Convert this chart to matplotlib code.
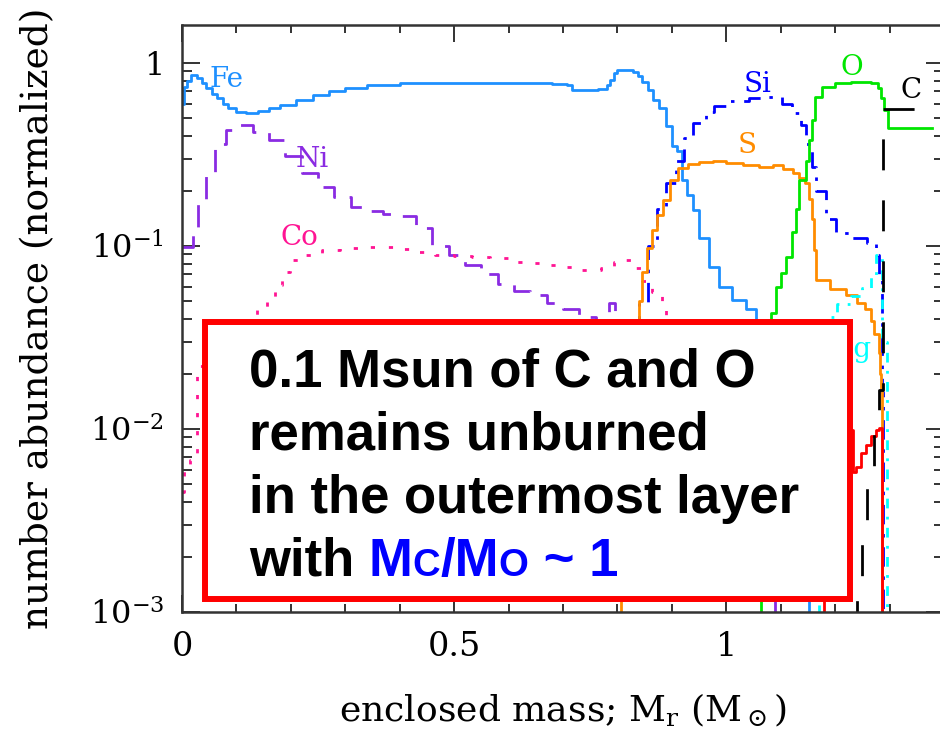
import numpy as np
import matplotlib
matplotlib.use("Agg")
import matplotlib.pyplot as plt
from matplotlib.patches import Rectangle
from matplotlib.ticker import FixedLocator, FixedFormatter, MultipleLocator, LogLocator, NullFormatter

plt.rcParams['lines.scale_dashes'] = False
plt.rcParams['mathtext.fontset'] = 'dejavuserif'
plt.rcParams['font.family'] = ['DejaVu Serif']

# ---------------- data (enclosed mass [Msun], normalized number abundance) ----------------
fe_x = [0, 0.004, 0.009, 0.016, 0.027, 0.036, 0.045, 0.055, 0.065, 0.075, 0.085, 0.100, 0.118,
        0.140, 0.16, 0.18, 0.21, 0.24, 0.27, 0.30, 0.34, 0.40, 0.50, 0.60, 0.68, 0.708, 0.716,
        0.765, 0.78, 0.787, 0.794, 0.80, 0.828, 0.838, 0.846, 0.856, 0.866, 0.876, 0.89, 0.90,
        0.91, 0.919, 0.928, 0.938, 0.95, 0.969, 0.987, 1.011, 1.037, 1.055, 1.07, 1.09, 1.11,
        1.13, 1.152]
fe_y = [0.60, 0.74, 0.80, 0.86, 0.83, 0.78, 0.73, 0.68, 0.64, 0.60, 0.57, 0.54, 0.53,
        0.545, 0.565, 0.59, 0.625, 0.665, 0.70, 0.73, 0.755, 0.775, 0.78, 0.78, 0.77, 0.76, 0.71,
        0.72, 0.76, 0.81, 0.88, 0.92, 0.89, 0.85, 0.79, 0.71, 0.63, 0.57, 0.45, 0.35,
        0.33, 0.23, 0.19, 0.157, 0.11, 0.077, 0.06, 0.051, 0.045, 0.039, 0.03, 0.02, 0.01,
        0.004, 0.0005]

ni_x = [0, 0.02, 0.03, 0.045, 0.06, 0.08, 0.10, 0.13, 0.16, 0.19, 0.22, 0.25, 0.28, 0.31,
        0.34, 0.37, 0.40, 0.43, 0.46, 0.49, 0.52, 0.55, 0.58, 0.61, 0.64, 0.67, 0.70, 0.73,
        0.76, 0.785, 0.795, 0.81, 0.85, 0.90, 0.96, 1.02, 1.07, 1.09]
ni_y = [0.099, 0.119, 0.17, 0.25, 0.36, 0.43, 0.46, 0.42, 0.38, 0.31, 0.25, 0.21, 0.185, 0.163,
        0.156, 0.150, 0.145, 0.125, 0.100, 0.089, 0.079, 0.070, 0.062, 0.057, 0.054, 0.049, 0.045, 0.041,
        0.038, 0.049, 0.02, 0.008, 0.005, 0.004, 0.003, 0.002, 0.0015, 0.0005]

co_x = [0, 0.003, 0.015, 0.0275, 0.05, 0.075, 0.10, 0.121, 0.138, 0.156, 0.171, 0.183, 0.198,
        0.226, 0.257, 0.29, 0.327, 0.363, 0.396, 0.431, 0.464, 0.50, 0.532, 0.565, 0.602, 0.639,
        0.672, 0.708, 0.734, 0.77, 0.794, 0.809, 0.827, 0.846, 0.864, 0.881, 0.89, 0.90, 0.92,
        0.95, 1.0]
co_y = [0.0045, 0.006, 0.0068, 0.022, 0.027, 0.032, 0.036, 0.039, 0.046, 0.052, 0.061, 0.072, 0.084,
        0.089, 0.095, 0.097, 0.099, 0.099, 0.096, 0.093, 0.089, 0.088, 0.087, 0.086, 0.082, 0.081,
        0.079, 0.077, 0.074, 0.076, 0.082, 0.084, 0.076, 0.064, 0.056, 0.049, 0.041, 0.02, 0.008,
        0.003, 0.0005]

si_x = [0.800, 0.815, 0.828, 0.840, 0.856, 0.873, 0.89, 0.908, 0.923, 0.938, 0.963, 0.978, 1.006,
        1.042, 1.073, 1.103, 1.121, 1.138, 1.147, 1.158, 1.165, 1.183, 1.202, 1.231, 1.259, 1.275,
        1.281, 1.286, 1.288]
si_y = [0.003, 0.012, 0.03, 0.048, 0.10, 0.16, 0.22, 0.29, 0.39, 0.47, 0.54, 0.58, 0.62,
        0.645, 0.652, 0.60, 0.53, 0.46, 0.36, 0.27, 0.20, 0.14, 0.118, 0.11, 0.104, 0.089,
        0.07, 0.016, 0.0005]

s_x = [0.800, 0.806, 0.815, 0.825, 0.834, 0.840, 0.846, 0.855, 0.864, 0.873, 0.884, 0.897, 0.912,
       0.930, 0.950, 0.975, 1.000, 1.030, 1.060, 1.085, 1.105, 1.122, 1.134, 1.145, 1.152, 1.158,
       1.162, 1.165, 1.19, 1.22, 1.24, 1.255, 1.265, 1.272, 1.280, 1.283, 1.285, 1.287]
s_y = [0.0005, 0.002, 0.006, 0.015, 0.035, 0.050, 0.072, 0.098, 0.122, 0.148, 0.178, 0.229, 0.267,
       0.280, 0.288, 0.290, 0.284, 0.276, 0.270, 0.276, 0.265, 0.250, 0.235, 0.222, 0.180, 0.140,
       0.095, 0.065, 0.058, 0.054, 0.049, 0.045, 0.039, 0.033, 0.026, 0.020, 0.0164, 0.0005]

o_x = [1.060, 1.064, 1.075, 1.083, 1.092, 1.100, 1.110, 1.121, 1.128, 1.134, 1.147, 1.152, 1.158,
       1.163, 1.175, 1.20, 1.23, 1.265, 1.279, 1.284, 1.289, 1.298, 1.378]
o_y = [0.0005, 0.015, 0.03, 0.043, 0.060, 0.071, 0.087, 0.12, 0.16, 0.23, 0.29, 0.38, 0.49,
       0.65, 0.74, 0.78, 0.79, 0.78, 0.73, 0.644, 0.553, 0.44, 0.44]

c_x = [1.235, 1.240, 1.249, 1.259, 1.272, 1.281, 1.288, 1.378]
c_y = [0.0005, 0.00137, 0.0027, 0.0051, 0.0099, 0.0163, 0.56, 0.56]

mg_x = [1.160, 1.170, 1.180, 1.189, 1.204, 1.230, 1.250, 1.266, 1.275, 1.286, 1.296]
mg_y = [0.0005, 0.006, 0.02, 0.041, 0.048, 0.053, 0.059, 0.068, 0.089, 0.03, 0.0005]

red_x = [1.16, 1.18, 1.20, 1.215, 1.222, 1.232, 1.2385, 1.248, 1.257, 1.266, 1.275, 1.281, 1.286]
red_y = [0.0005, 0.0015, 0.003, 0.0045, 0.0099, 0.0058, 0.0062, 0.0074, 0.0082, 0.0091, 0.0099, 0.0101, 0.0005]

x_ticks = [0, 0.5, 1]
x_ticklabels = ['0', '0.5', '1']
y_ticks = [1e-3, 1e-2, 1e-1, 1]
y_ticklabels = ['$10^{-3}$', '$10^{-2}$', '$10^{-1}$', '1']

# element labels: (text, x, baseline y, colour, ha)
labels = [('Fe', 0.0826, 0.739, '#1E90FF', 'center'),
          ('Ni', 0.2385, 0.270, '#8A2BE2', 'center'),
          ('Co', 0.2165, 0.1009, '#FF1493', 'center'),
          ('Si', 1.0578, 0.694, '#0000FF', 'center'),
          ('S', 1.0376, 0.322, '#FF8C00', 'center'),
          ('O', 1.2303, 0.86, '#00E600', 'center'),
          ('C', 1.3404, 0.644, 'black', 'center'),
          ('Mg', 1.268, 0.0247, '#00FFFF', 'right')]

# ---------------- figure ----------------
W, H = 940, 743
fig = plt.figure(figsize=(W / 100, H / 100), dpi=100)
ax = fig.add_axes([182 / W, 131 / H, 762 / W, 587 / H])
ax.set_yscale('log')
ax.set_xlim(0, 1.4)
ax.set_ylim(1e-3, 1.613)

lw = 2.0
ax.plot(fe_x, fe_y, color='#1E90FF', lw=lw, drawstyle='steps-post')
ax.plot(ni_x, ni_y, color='#8A2BE2', lw=lw, drawstyle='steps-post', linestyle=(0, (16, 10)))
ax.plot(co_x, co_y, color='#FF1493', lw=lw, drawstyle='steps-post', linestyle=(0, (3, 10)))
ax.plot(si_x, si_y, color='#0000FF', lw=lw, drawstyle='steps-post', linestyle=(0, (14, 7, 2.5, 7)))
ax.plot(s_x, s_y, color='#FF8C00', lw=lw, drawstyle='steps-post')
ax.plot(o_x, o_y, color='#00E600', lw=lw, drawstyle='steps-post')
ax.plot(red_x, red_y, color='#FF0000', lw=lw, drawstyle='steps-post')
ax.plot(mg_x, mg_y, color='#00FFFF', lw=lw, drawstyle='steps-post', linestyle=(0, (7, 6, 2, 6)))
# C drawn from the outer edge inwards (same geometry) so the dash phase matches
ax.plot(c_x[::-1], c_y[::-1], color='black', lw=lw, drawstyle='steps-pre',
        linestyle=(31, (22.3, 21.6)))

for txt, lx, ly, col, ha in labels:
    ax.text(lx, ly, txt, color=col, fontsize=20, ha=ha, va='baseline')

# axes styling
for sp in ax.spines.values():
    sp.set_linewidth(1.8)
    sp.set_color('#333333')
ax.xaxis.set_major_locator(FixedLocator(x_ticks))
ax.xaxis.set_major_formatter(FixedFormatter(x_ticklabels))
ax.xaxis.set_minor_locator(MultipleLocator(0.1))
ax.yaxis.set_major_locator(FixedLocator(y_ticks))
ax.yaxis.set_major_formatter(FixedFormatter(y_ticklabels))
ax.yaxis.set_minor_locator(LogLocator(base=10, subs=np.arange(2, 10)))
ax.yaxis.set_minor_formatter(NullFormatter())
ax.tick_params(which='both', direction='in', top=True, right=True, color='#333333', width=1.4)
ax.tick_params(axis='x', which='major', length=12, labelsize=24, pad=13.5)
ax.tick_params(axis='x', which='minor', length=6)
ax.tick_params(axis='y', which='major', length=13, labelsize=23, pad=13)
ax.tick_params(axis='y', which='minor', length=7)

ax.set_xlabel(r'enclosed mass; M$_{\rm r}$ (M$_\odot$)', fontsize=26, labelpad=21)
ax.set_ylabel('number abundance (normalized)', fontsize=27, labelpad=24)

# ---------------- annotation box ----------------
box = Rectangle((204.5 / W, 1 - 599 / H), (850 - 204.5) / W, (599 - 322.5) / H,
                transform=fig.transFigure, facecolor='white', edgecolor='#FF0000',
                lw=4.3, zorder=10)
fig.add_artist(box)

tfont = dict(family=['Liberation Sans', 'DejaVu Sans'], weight='bold')
big, small = 38, 27.5
x0 = 249 / W
lines = ['0.1 Msun of C and O', 'remains unburned', 'in the outermost layer']
baselines = [386, 449, 513, 576]
for s, b in zip(lines, baselines[:3]):
    fig.text(x0, 1 - b / H, s, fontsize=big, color='black', va='baseline', ha='left',
             zorder=11, **tfont)

renderer = fig.canvas.get_renderer()
pieces = [('with ', big, 'black'), ('M', big, '#0000FF'), ('C', small, '#0000FF'),
          ('/M', big, '#0000FF'), ('O', small, '#0000FF'), (' ~ 1', big, '#0000FF')]
xc = x0
yb = 1 - baselines[3] / H
for s, fs, col in pieces:
    t = fig.text(xc, yb, s, fontsize=fs, color=col, va='baseline', ha='left', zorder=11, **tfont)
    bb = t.get_window_extent(renderer=renderer)
    xc = bb.x1 / W

fig.savefig('out.png', dpi=100)
